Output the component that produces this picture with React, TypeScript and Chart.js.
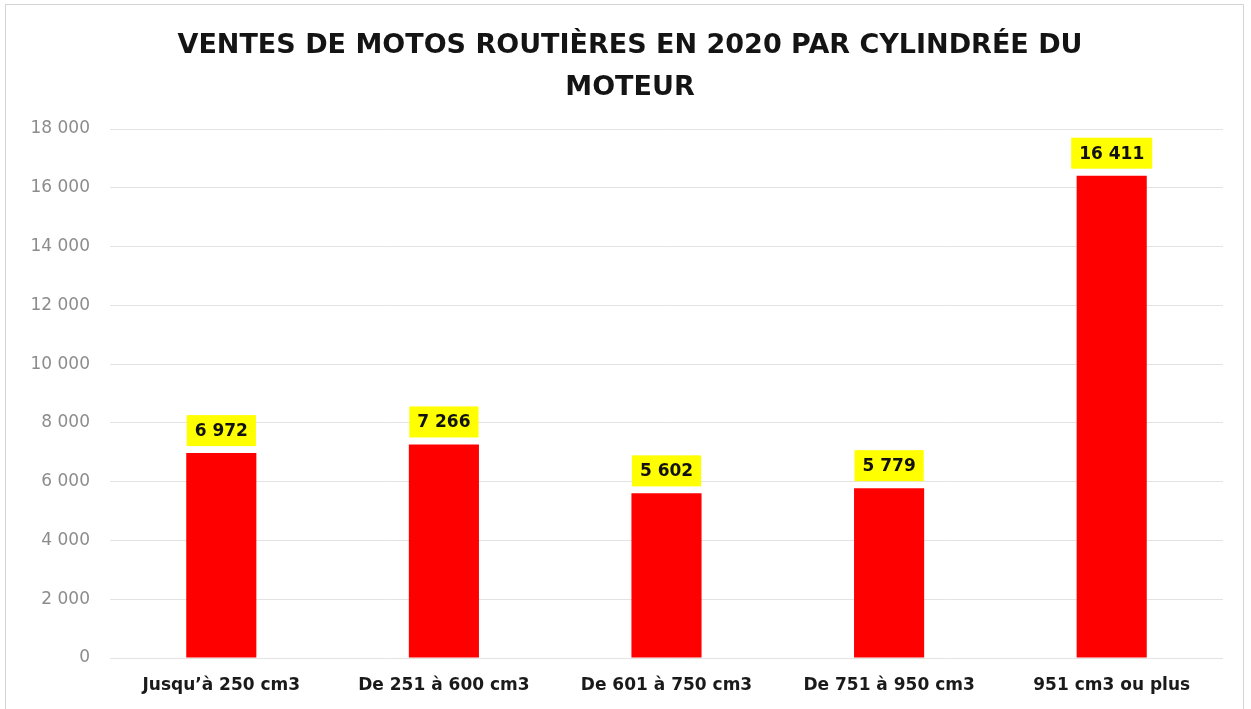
import React, { useEffect, useRef } from "react";
import { Chart, registerables } from "chart.js";

Chart.register(...registerables);

const categories = [
  "Jusqu’à 250 cm3",
  "De 251 à 600 cm3",
  "De 601 à 750 cm3",
  "De 751 à 950 cm3",
  "951 cm3 ou plus",
];
const ventes = [6972, 7266, 5602, 5779, 16411];
const titleLines = ["VENTES DE MOTOS ROUTIÈRES EN 2020 PAR CYLINDRÉE DU", "MOTEUR"];
const yMin = 0;
const yMax = 18000;
const yStep = 2000;

const fmt = (v: number) => String(v).replace(/\B(?=(\d{3})+(?!\d))/g, " ");

const TITLE_SIZE = 27;
const TITLE_LH = 1.55;
const TITLE_PAD_TOP = 25;

const labelBoxPlugin = {
  id: "labelBoxes",
  afterDatasetsDraw(chart: any) {
    const ctx = chart.ctx;
    const meta = chart.getDatasetMeta(0);
    ctx.save();
    ctx.font = "bold 17px 'DejaVu Sans'";
    ctx.textAlign = "center";
    ctx.textBaseline = "middle";
    meta.data.forEach((bar: any, i: number) => {
      const text = fmt(chart.data.datasets[0].data[i]);
      const w = ctx.measureText(text).width + 16;
      const h = 31;
      const gap = 7;
      const x = bar.x;
      const yBottom = bar.y - gap;
      ctx.fillStyle = "#ffff00";
      ctx.fillRect(x - w / 2, yBottom - h, w, h);
      ctx.fillStyle = "#111111";
      ctx.fillText(text, x, yBottom - h / 2 + 1);
    });
    ctx.restore();
  },
};

// Draws the title text, shifted right to match the reference's centring.
const titleTextPlugin = {
  id: "titleText",
  afterDraw(chart: any) {
    const ctx = chart.ctx;
    const cx = 630;
    ctx.save();
    ctx.font = `bold ${TITLE_SIZE}px 'DejaVu Sans'`;
    ctx.fillStyle = "#141414";
    ctx.textAlign = "center";
    ctx.textBaseline = "middle";
    const lh = TITLE_SIZE * TITLE_LH;
    titleLines.forEach((line, i) => {
      ctx.fillText(line, cx, TITLE_PAD_TOP + lh / 2 + i * lh);
    });
    ctx.restore();
  },
};

export default function App() {
  const ref = useRef<HTMLCanvasElement | null>(null);

  useEffect(() => {
    if (!ref.current) return;
    const chart = new Chart(ref.current, {
      type: "bar",
      data: {
        labels: categories,
        datasets: [
          {
            data: ventes,
            backgroundColor: "#ff0000",
            borderWidth: 0,
            barPercentage: 0.63,
            categoryPercentage: 0.5,
          },
        ],
      },
      options: {
        animation: false,
        responsive: false,
        layout: { padding: { left: 0, right: 28, top: 0, bottom: 0 } },
        plugins: {
          legend: { display: false },
          tooltip: { enabled: false },
          title: {
            display: true,
            text: titleLines,
            color: "rgba(0,0,0,0)",
            font: { family: "'DejaVu Sans'", size: TITLE_SIZE, weight: "bold", lineHeight: TITLE_LH },
            padding: { top: TITLE_PAD_TOP, bottom: 20.3 },
          },
        },
        scales: {
          x: {
            grid: { display: false, drawTicks: false },
            border: { display: false },
            ticks: {
              color: "#1a1a1a",
              font: { family: "'DejaVu Sans'", size: 17, weight: "bold" },
              padding: 17,
              maxRotation: 0,
              autoSkip: false,
            },
            afterFit(scale: any) {
              scale.height = 51;
            },
          },
          y: {
            min: yMin,
            max: yMax,
            grid: { color: "#e3e3e3", lineWidth: 1, drawTicks: false },
            border: { display: false },
            ticks: {
              stepSize: yStep,
              color: "#8c8c8c",
              font: { family: "'DejaVu Sans'", size: 17 },
              padding: 20,
              callback: (v: any) => fmt(Number(v)),
            },
            afterFit(scale: any) {
              scale.width = 110;
            },
          },
        },
      },
      plugins: [labelBoxPlugin, titleTextPlugin],
    });
    return () => chart.destroy();
  }, []);

  return (
    <div
      style={{
        position: "fixed",
        left: 0,
        top: 0,
        width: 1251,
        height: 709,
        overflow: "hidden",
        background: "#ffffff",
      }}
    >
      <div
        style={{
          position: "absolute",
          left: 5,
          top: 4,
          width: 1239,
          height: 720,
          border: "1px solid #d4d4d4",
          boxSizing: "border-box",
        }}
      />
      <canvas ref={ref} width={1251} height={709} style={{ position: "absolute", left: 0, top: 0 }} />
    </div>
  );
}
